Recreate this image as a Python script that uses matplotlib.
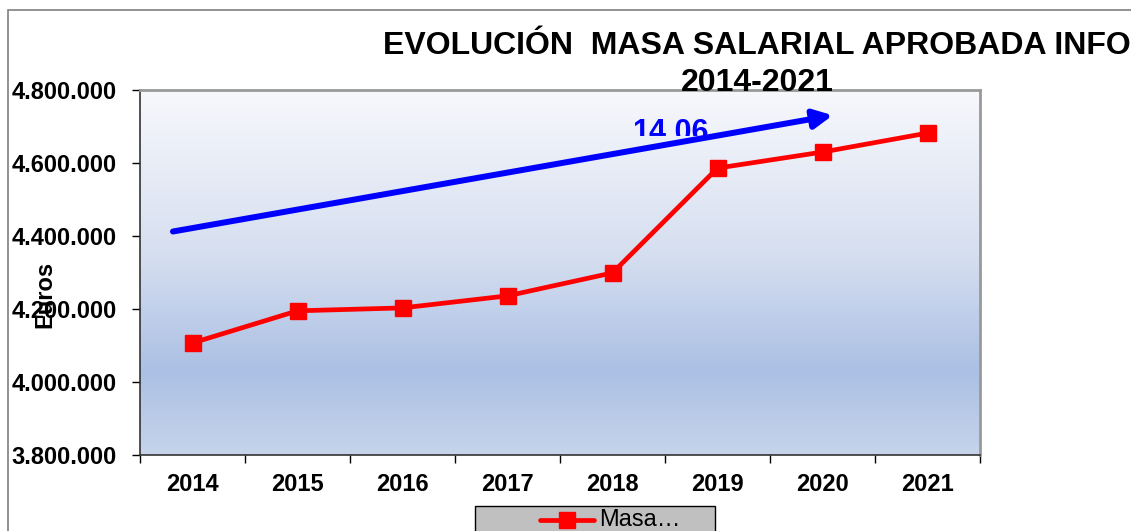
import matplotlib
matplotlib.use("Agg")
import matplotlib.pyplot as plt
import numpy as np
from matplotlib.colors import LinearSegmentedColormap
from matplotlib.lines import Line2D
from matplotlib.patches import Rectangle
from matplotlib.ticker import FuncFormatter, FixedLocator
from matplotlib.transforms import Bbox, TransformedBbox

# data
years = ["2014", "2015", "2016", "2017", "2018", "2019", "2020", "2021"]
masa_salarial = [4107000, 4195000, 4203000, 4236000, 4299000, 4586000, 4630000, 4682000]
y_ticks = [3800000, 4000000, 4200000, 4400000, 4600000, 4800000]
trend_label = "14,06"
legend_label = "Masa…"

plt.rcParams["font.family"] = ["Liberation Sans", "DejaVu Sans"]

W, H = 1131, 531
fig = plt.figure(figsize=(W / 100, H / 100), dpi=100)
ax = fig.add_axes([140 / W, 1 - 455 / H, 840 / W, 365 / H])

# outer chart frame (left and top edge visible)
fig.patches.append(Rectangle((8 / W, -0.1), 1.2, 1 - 10 / H + 0.1, transform=fig.transFigure,
                             fill=False, edgecolor="#7f7f7f", linewidth=1.2))

# gradient plot area
cmap = LinearSegmentedColormap.from_list(
    "bg", [(0.0, "#f7f8fc"), (0.45, "#d6dff0"), (0.77, "#abc0e4"), (1.0, "#c6d4eb")])
grad = np.linspace(0, 1, 256).reshape(-1, 1)
ax.imshow(grad, cmap=cmap, aspect="auto", extent=[0, 1, 0, 1],
          transform=ax.transAxes, zorder=0)

x = np.arange(len(years))
ax.plot(x, masa_salarial, color="#ff0000", linewidth=3.4, marker="s", markersize=12,
        zorder=3, clip_on=False)

ax.set_xlim(-0.5, len(years) - 0.5)
ax.set_ylim(y_ticks[0], y_ticks[-1])
ax.yaxis.set_major_locator(FixedLocator(y_ticks))
ax.yaxis.set_major_formatter(FuncFormatter(lambda v, p: f"{int(v):,}".replace(",", ".")))
ax.xaxis.set_major_locator(FixedLocator(np.arange(len(years) + 1) - 0.5))
ax.xaxis.set_major_formatter(FuncFormatter(lambda v, p: ""))
ax.xaxis.set_minor_locator(FixedLocator(x))
ax.set_xticklabels(years, minor=True)
ax.tick_params(axis="x", which="minor", length=0, pad=13, labelsize=17)
ax.tick_params(axis="x", which="major", length=6, direction="out", width=1, color="black")
ax.tick_params(axis="y", length=6, width=1, pad=11, labelsize=17)
for lab in ax.get_xticklabels(minor=True) + ax.get_yticklabels():
    lab.set_fontweight("bold")

for side in ("left", "bottom"):
    ax.spines[side].set_color("#333333")
    ax.spines[side].set_linewidth(1.2)
for side in ("top", "right"):
    ax.spines[side].set_color("#999999")
    ax.spines[side].set_linewidth(2)

ax.set_ylabel("Euros", fontsize=17, fontweight="bold")
ax.yaxis.set_label_coords(-84 / 840, 0.441)

# trend arrow drawn on the chart; its label sits in a small box that clips it
ax.annotate("", xy=(0.828, 0.932), xytext=(0.036, 0.611), xycoords="axes fraction",
            arrowprops=dict(arrowstyle="-|>", color="#0000ff", lw=4.3, mutation_scale=28),
            zorder=4)
t = ax.text(632 / W, 1 - 141 / H, trend_label, color="#0000ff", fontsize=22,
            fontweight="bold", va="baseline", ha="left", zorder=2,
            transform=fig.transFigure)
t.set_clip_box(TransformedBbox(Bbox([[0.4, 1 - 135.5 / H], [0.8, 1 - 118.5 / H]]),
                               fig.transFigure))
t.set_clip_on(True)

# title
fig.text(757 / W, 1 - 46 / H, "EVOLUCIÓN  MASA SALARIAL APROBADA INFO",
         fontsize=23, fontweight="bold", ha="center", va="center")
fig.text(757 / W, 1 - 83 / H, "2014-2021",
         fontsize=23, fontweight="bold", ha="center", va="center")

# legend box (clipped by the bottom edge)
fig.patches.append(Rectangle((475 / W, -0.05), 240 / W, 1 - 506 / H + 0.05,
                             transform=fig.transFigure, facecolor="#c0c0c0",
                             edgecolor="black", linewidth=1))
fig.lines.append(Line2D([540 / W, 594 / W], [1 - 520 / H] * 2, transform=fig.transFigure,
                        color="#ff0000", linewidth=3.4, solid_capstyle="round"))
fig.lines.append(Line2D([567 / W], [1 - 520 / H], transform=fig.transFigure,
                        color="#ff0000", marker="s", markersize=12, linestyle="none"))
fig.text(599 / W, 1 - 520 / H, legend_label, fontsize=17, ha="left", va="center")

fig.savefig("out.png", dpi=100)
